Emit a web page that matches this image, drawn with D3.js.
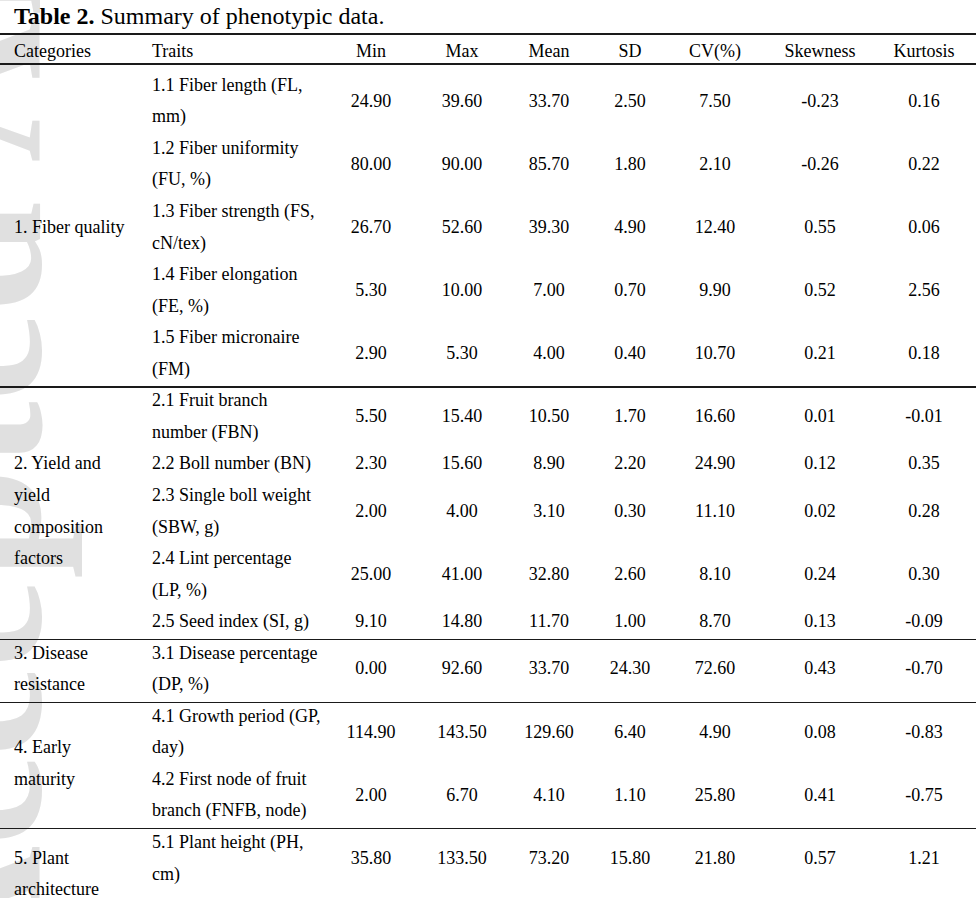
<!DOCTYPE html>
<html>
<head>
<meta charset="utf-8">
<script src="https://cdn.jsdelivr.net/npm/d3@7"></script>
<style>
  html, body { margin: 0; padding: 0; background: #fff; }
  svg { display: block; }
  text { font-family: 'Liberation Serif', 'Times New Roman', serif; fill: #000; }
  .title { font-size: 24px; }
  .cell { font-size: 18px; }
  .rule { stroke: #1a1a1a; shape-rendering: crispEdges; }
  .watermark { font-family: 'Liberation Serif', serif; font-weight: bold; fill: #e0e0e0; font-size: 200px; }
</style>
</head>
<body>
<div id="table-chart"></div>
<script>
// Table contents
var headers = ['Categories', 'Traits', 'Min', 'Max', 'Mean', 'SD', 'CV(%)', 'Skewness', 'Kurtosis'];

var categoryLines = [
  ['1. Fiber quality'],
  ['2. Yield and', 'yield', 'composition', 'factors'],
  ['3. Disease', 'resistance'],
  ['4. Early', 'maturity'],
  ['5. Plant', 'architecture']
];

var traitLines = [
  ['1.1 Fiber length (FL,', 'mm)'],
  ['1.2 Fiber uniformity', '(FU, %)'],
  ['1.3 Fiber strength (FS,', 'cN/tex)'],
  ['1.4 Fiber elongation', '(FE, %)'],
  ['1.5 Fiber micronaire', '(FM)'],
  ['2.1 Fruit branch', 'number (FBN)'],
  ['2.2 Boll number (BN)'],
  ['2.3 Single boll weight', '(SBW, g)'],
  ['2.4 Lint percentage', '(LP, %)'],
  ['2.5 Seed index (SI, g)'],
  ['3.1 Disease percentage', '(DP, %)'],
  ['4.1 Growth period (GP,', 'day)'],
  ['4.2 First node of fruit', 'branch (FNFB, node)'],
  ['5.1 Plant height (PH,', 'cm)']
];

var traitCategory = [0, 0, 0, 0, 0, 1, 1, 1, 1, 1, 2, 3, 3, 4];

var minValues = [24.9, 80, 26.7, 5.3, 2.9, 5.5, 2.3, 2, 25, 9.1, 0, 114.9, 2, 35.8];
var maxValues = [39.6, 90, 52.6, 10, 5.3, 15.4, 15.6, 4, 41, 14.8, 92.6, 143.5, 6.7, 133.5];
var meanValues = [33.7, 85.7, 39.3, 7, 4, 10.5, 8.9, 3.1, 32.8, 11.7, 33.7, 129.6, 4.1, 73.2];
var sdValues = [2.5, 1.8, 4.9, 0.7, 0.4, 1.7, 2.2, 0.3, 2.6, 1, 24.3, 6.4, 1.1, 15.8];
var cvValues = [7.5, 2.1, 12.4, 9.9, 10.7, 16.6, 24.9, 11.1, 8.1, 8.7, 72.6, 4.9, 25.8, 21.8];
var skewValues = [-0.23, -0.26, 0.55, 0.52, 0.21, 0.01, 0.12, 0.02, 0.24, 0.13, 0.43, 0.08, 0.41, 0.57];
var kurtValues = [0.16, 0.22, 0.06, 2.56, 0.18, -0.01, 0.35, 0.28, 0.30, -0.09, -0.70, -0.83, -0.75, 1.21];

var numericColumns = [
  { name: 'Min', values: minValues },
  { name: 'Max', values: maxValues },
  { name: 'Mean', values: meanValues },
  { name: 'SD', values: sdValues },
  { name: 'CV(%)', values: cvValues },
  { name: 'Skewness', values: skewValues },
  { name: 'Kurtosis', values: kurtValues }
];

// plain hyphen for negatives, like the source document
var fmt = d3.formatLocale({
  decimal: '.', thousands: ',', grouping: [3], currency: ['', ''], minus: '-'
}).format('.2f');

var render = function() {
  var width = 976;
  var height = 898;

  var containerElement = d3.select('#table-chart');
  containerElement.html('');

  var svg = containerElement
    .append('svg')
    .attr('width', width)
    .attr('height', height);

  // faint journal watermark down the left edge (cropped by the page, as in the source)
  svg
    .append('text')
    .attr('class', 'watermark')
    .attr('transform', 'translate(40,990) rotate(-90)')
    .text('Accepted Article');

  // column x positions (left-aligned text columns, centred number columns)
  var xCol = d3
    .scaleOrdinal()
    .domain(headers)
    .range([14, 152, 371, 462, 549, 630, 715, 820, 924]);

  // text line index -> vertical centre
  var yLine = d3
    .scaleLinear()
    .domain([0, 1])
    .range([84.5, 84.5 + 31.55]);

  var headerY = 51;
  var topRuleY = 34;
  var headerRuleY = 64;

  // Title
  var title = svg
    .append('text')
    .attr('class', 'title')
    .attr('x', 14)
    .attr('y', 24);
  title.append('tspan').attr('font-weight', 'bold').text('Table 2.');
  title.append('tspan').text(' Summary of phenotypic data.');

  // Rules
  svg
    .append('line')
    .attr('class', 'rule')
    .attr('x1', 0)
    .attr('x2', width)
    .attr('y1', topRuleY)
    .attr('y2', topRuleY)
    .attr('stroke-width', 2);

  svg
    .append('line')
    .attr('class', 'rule')
    .attr('x1', 0)
    .attr('x2', width)
    .attr('y1', headerRuleY)
    .attr('y2', headerRuleY)
    .attr('stroke-width', 1.2);

  // Header row
  svg
    .append('g')
    .selectAll('text')
    .data(headers)
    .enter()
    .append('text')
    .attr('class', 'cell')
    .attr('x', d => xCol(d))
    .attr('y', headerY)
    .attr('dy', '0.35em')
    .attr('text-anchor', (d, i) => (i < 2 ? 'start' : 'middle'))
    .text(d => d);

  // Lay out rows: each trait takes as many lines as its text wraps to
  var rows = [];
  var lineCursor = 0;
  traitLines.forEach(function(lines, i) {
    rows.push({ index: i, start: lineCursor, lines: lines.length, category: traitCategory[i] });
    lineCursor += lines.length;
  });

  var blocks = categoryLines.map(function(lines, c) {
    var members = rows.filter(r => r.category == c);
    var start = members[0].start;
    var span = d3.sum(members, r => r.lines);
    return { index: c, start: start, span: span, lines: lines };
  });
  // the table runs on past the page crop, so the last block is one line taller
  blocks[blocks.length - 1].span += 1;

  // Block separators
  svg
    .append('g')
    .selectAll('line')
    .data(blocks.slice(1))
    .enter()
    .append('line')
    .attr('class', 'rule')
    .attr('x1', 0)
    .attr('x2', width)
    .attr('y1', d => yLine(d.start) - 13)
    .attr('y2', d => yLine(d.start) - 13)
    .attr('stroke-width', 1.2);

  // Category labels, centred vertically over their block
  svg
    .append('g')
    .selectAll('g')
    .data(blocks)
    .enter()
    .append('g')
    .each(function(b) {
      var first = b.start + (b.span - b.lines.length) / 2;
      d3.select(this)
        .selectAll('text')
        .data(b.lines)
        .enter()
        .append('text')
        .attr('class', 'cell')
        .attr('x', xCol('Categories'))
        .attr('y', (d, i) => yLine(first + i))
        .attr('dy', '0.35em')
        .text(d => d);
    });

  // Trait labels
  var rowGroups = svg
    .append('g')
    .selectAll('g')
    .data(rows)
    .enter()
    .append('g');

  rowGroups.each(function(r) {
    d3.select(this)
      .selectAll('text.trait')
      .data(traitLines[r.index])
      .enter()
      .append('text')
      .attr('class', 'cell trait')
      .attr('x', xCol('Traits'))
      .attr('y', (d, i) => yLine(r.start + i))
      .attr('dy', '0.35em')
      .text(d => d);
  });

  // Numeric cells, centred on the row
  numericColumns.forEach(function(col) {
    rowGroups
      .append('text')
      .attr('class', 'cell')
      .attr('x', xCol(col.name))
      .attr('y', r => yLine(r.start + (r.lines - 1) / 2))
      .attr('dy', '0.35em')
      .attr('text-anchor', 'middle')
      .text(r => fmt(col.values[r.index]));
  });
};

window.onload = render;
</script>
</body>
</html>
